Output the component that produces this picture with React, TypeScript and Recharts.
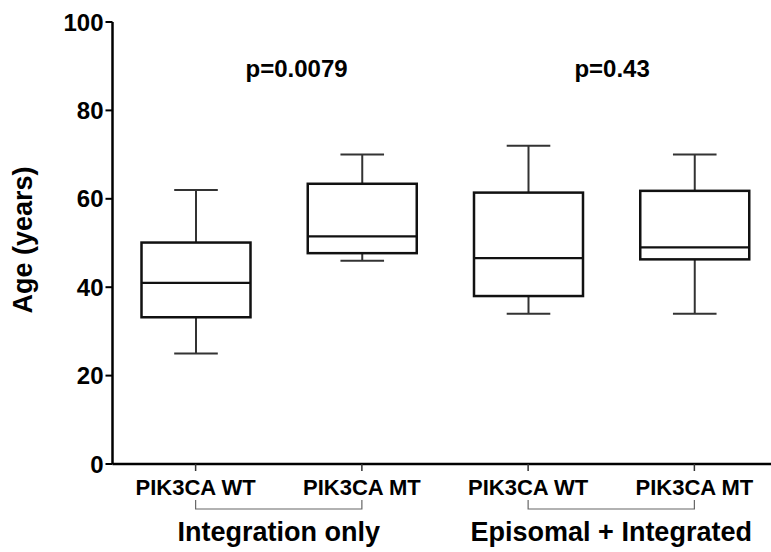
import React from 'react';
import { ComposedChart, Bar, XAxis, YAxis, ReferenceDot, Label } from 'recharts';

// box summaries (years)
const groupIds = ['wt1', 'mt1', 'wt2', 'mt2'];
const tickLabels = ['PIK3CA WT', 'PIK3CA MT', 'PIK3CA WT', 'PIK3CA MT'];
const groupNames = ['Integration only', 'Episomal + Integrated'];
const mins = [25, 46, 34, 34];
const q1s = [33.2, 47.7, 38, 46.3];
const medians = [41, 51.5, 46.6, 49];
const q3s = [50.1, 63.4, 61.4, 61.8];
const maxs = [62, 70, 72, 70];
const yTicks = [0, 20, 40, 60, 80, 100];
const pLabels = ['p=0.0079', 'p=0.43'];
const pAnchors = ['wt1', 'wt2'];
const pLevel = 89.4;

const data = groupIds.map((id, i) => ({
  id,
  range: [mins[i], maxs[i]],
  min: mins[i],
  q1: q1s[i],
  median: medians[i],
  q3: q3s[i],
  max: maxs[i],
}));

const FONT = '"Liberation Sans", Arial, sans-serif';

const BoxShape = (props: any) => {
  const { x, y, width, height, payload } = props;
  if (!payload) return null;
  const top = Math.min(y, y + height);
  const h = Math.abs(height);
  const { min, q1, median, q3, max } = payload;
  const py = (v: number) => top + (h * (max - v)) / (max - min);
  const cx = x + width / 2;
  const cap = width * 0.4;
  return (
    <g>
      <line x1={cx} x2={cx} y1={py(max)} y2={py(q3)} stroke="#333" strokeWidth={2} />
      <line x1={cx} x2={cx} y1={py(q1)} y2={py(min)} stroke="#333" strokeWidth={2} />
      <line x1={cx - cap / 2} x2={cx + cap / 2} y1={py(max)} y2={py(max)} stroke="#333" strokeWidth={2} />
      <line x1={cx - cap / 2} x2={cx + cap / 2} y1={py(min)} y2={py(min)} stroke="#333" strokeWidth={2} />
      <rect x={x} y={py(q3)} width={width} height={py(q1) - py(q3)} fill="#fff" stroke="#111" strokeWidth={2.5} />
      <line x1={x} x2={x + width} y1={py(median)} y2={py(median)} stroke="#111" strokeWidth={2.2} />
    </g>
  );
};

const XTick = (props: any) => {
  const { x, y, payload } = props;
  const i = props.index ?? payload.index ?? 0;
  const half = payload.offset || 83;
  const axisY = y - 7;
  const isFirst = i % 2 === 0;
  return (
    <g>
      <text x={x} y={axisY + 31} textAnchor="middle" fontFamily={FONT} fontWeight="bold" fontSize={22} fill="#000">
        {tickLabels[i]}
      </text>
      {isFirst && (
        <g>
          <path
            d={`M${x},${axisY + 36} V${axisY + 45} H${x + 2 * half} V${axisY + 36}`}
            fill="none"
            stroke="#666"
            strokeWidth={1.2}
          />
          <text x={x + half} y={axisY + 77} textAnchor="middle" fontFamily={FONT} fontWeight="bold" fontSize={27} fill="#000">
            {groupNames[i / 2]}
          </text>
        </g>
      )}
    </g>
  );
};

const pShift = [101, 84];

const App: React.FC = () => {
  return (
    <div style={{ position: 'absolute', left: 0, top: 0, width: 771, height: 552, overflow: 'hidden', background: '#fff' }}>
      <ComposedChart
        width={790}
        height={552}
        data={data}
        margin={{ top: 22, right: 12.5, bottom: 0, left: 0 }}
      >
        <XAxis
          dataKey="id"
          tick={<XTick />}
          tickSize={7}
          tickMargin={0}
          interval={0}
          axisLine={{ stroke: '#000', strokeWidth: 2.5 }}
          tickLine={{ stroke: '#333', strokeWidth: 1.5 }}
          height={88}
        />
        <YAxis
          width={112.5}
          domain={[0, 100]}
          ticks={yTicks}
          interval={0}
          tickSize={7}
          tickMargin={2}
          axisLine={{ stroke: '#000', strokeWidth: 2.5 }}
          tickLine={{ stroke: '#000', strokeWidth: 2 }}
          tick={{ fill: '#000', fontSize: 24, fontWeight: 'bold', fontFamily: FONT }}
        >
          <Label
            content={(p: any) => {
              const vb = p.viewBox || { x: 0, y: 22, height: 442 };
              const cx = vb.x + 23;
              const cy = vb.y + vb.height / 2 - 3;
              return (
                <text
                  x={cx}
                  y={cy}
                  transform={`rotate(-90 ${cx} ${cy})`}
                  textAnchor="middle"
                  dominantBaseline="central"
                  fontFamily={FONT}
                  fontWeight="bold"
                  fontSize={27}
                  fill="#000"
                >
                  Age (years)
                </text>
              );
            }}
          />
        </YAxis>
        <Bar dataKey="range" barSize={109} shape={<BoxShape />} isAnimationActive={false} />
        {pLabels.map((txt, k) => (
          <ReferenceDot
            key={txt}
            x={pAnchors[k]}
            y={pLevel}
            r={1}
            fill="none"
            stroke="none"
            label={(p: any) => {
              const vb = p.viewBox || { x: 0, y: 0, width: 0, height: 0 };
              const cx = vb.x + vb.width / 2 + pShift[k];
              const cy = vb.y + vb.height / 2;
              return (
                <text x={cx} y={cy} textAnchor="middle" dominantBaseline="central" fontFamily={FONT} fontWeight="bold" fontSize={24} fill="#000">
                  {txt}
                </text>
              );
            }}
          />
        ))}
      </ComposedChart>
    </div>
  );
};

export default App;
